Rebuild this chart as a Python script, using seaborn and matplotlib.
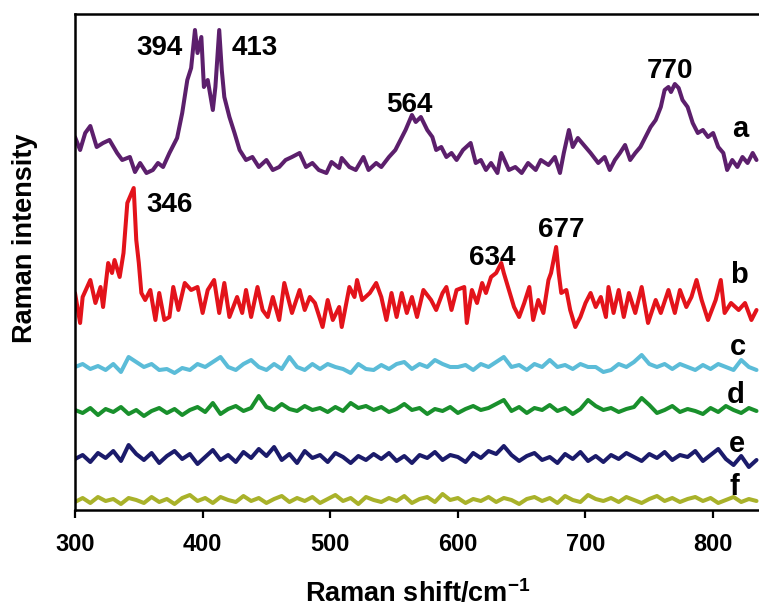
import matplotlib
matplotlib.use("Agg")
import matplotlib.pyplot as plt
import numpy as np
import pandas as pd
import seaborn as sns

# ---------------- spectra (Raman shift in cm^-1, intensity in a.u.) ----------------
shift_a = [300, 304, 308, 312, 317, 322, 327, 333, 337, 343, 347, 351, 356, 361, 365, 369, 374, 380,
           384, 388, 391, 394, 396, 399, 401, 404, 408, 410, 413, 415, 417, 421, 425, 429, 434, 439,
           444, 450, 455, 460, 465, 470, 476, 481, 486, 491, 497, 501, 507, 509, 515, 520, 526, 530,
           536, 540, 546, 551, 555, 559, 564, 567, 571, 576, 580, 583, 587, 591, 595, 599, 604, 610,
           614, 618, 622, 626, 631, 634, 640, 645, 650, 655, 661, 665, 671, 676, 680, 683, 687, 690,
           694, 700, 704, 710, 715, 719, 723, 727, 731, 735, 739, 743, 747, 751, 755, 759, 762, 765,
           767, 770, 773, 776, 780, 784, 788, 792, 796, 800, 804, 808, 811, 815, 819, 823, 827, 831, 834]
int_a = [43, 30, 47, 54, 33, 37, 40, 27, 20, 23, 8, 17, 7, 10, 17, 13, 27, 42,
         67, 100, 112, 150, 127, 143, 93, 100, 70, 93, 150, 110, 83, 63, 47, 30, 20, 23,
         13, 20, 10, 13, 20, 23, 27, 13, 17, 10, 7, 18, 12, 22, 13, 10, 23, 10,
         17, 13, 23, 30, 40, 50, 65, 58, 63, 50, 43, 30, 33, 23, 27, 20, 30, 37,
         17, 20, 10, 17, 7, 27, 10, 13, 7, 17, 10, 20, 15, 23, 7, 27, 50, 33,
         42, 33, 27, 17, 23, 10, 20, 27, 35, 20, 27, 33, 43, 53, 60, 73, 90, 93,
         88, 96, 92, 80, 73, 57, 47, 50, 43, 47, 33, 27, 10, 20, 13, 23, 17, 27, 20]

shift_b = [300, 304, 306, 312, 316, 320, 322, 326, 329, 331, 335, 338, 341, 343, 346, 348, 350, 352,
           355, 359, 363, 366, 370, 374, 377, 381, 386, 391, 396, 400, 404, 409, 413, 417, 421, 427,
           431, 434, 438, 443, 447, 451, 455, 460, 464, 470, 476, 480, 484, 488, 494, 498, 502, 507,
           509, 515, 519, 521, 525, 531, 536, 540, 544, 548, 552, 556, 560, 564, 568, 573, 579, 583,
           588, 591, 595, 599, 605, 607, 611, 615, 619, 622, 626, 630, 634, 636, 640, 644, 648, 652,
           656, 659, 663, 667, 671, 673, 677, 679, 681, 685, 688, 692, 696, 700, 704, 708, 712, 716,
           718, 722, 726, 730, 734, 739, 744, 749, 755, 759, 765, 770, 774, 779, 783, 787, 791, 796,
           802, 806, 809, 814, 820, 825, 830, 834]
int_b = [37, 7, 33, 50, 27, 43, 23, 67, 57, 70, 53, 77, 127, 133, 142, 90, 67, 37,
         30, 40, 10, 37, 10, 13, 43, 20, 47, 40, 43, 17, 40, 50, 17, 47, 13, 33,
         17, 40, 13, 43, 20, 13, 33, 10, 47, 17, 40, 20, 33, 27, 3, 30, 10, 23,
         3, 43, 33, 50, 30, 37, 47, 33, 10, 37, 13, 37, 17, 33, 13, 40, 30, 20,
         37, 43, 20, 40, 43, 7, 40, 27, 47, 37, 53, 57, 67, 57, 40, 23, 13, 27,
         43, 10, 30, 17, 50, 57, 83, 57, 37, 40, 20, 3, 13, 27, 37, 23, 33, 13,
         43, 17, 40, 13, 37, 17, 43, 7, 30, 17, 40, 17, 40, 23, 33, 50, 30, 10,
         30, 50, 17, 27, 20, 27, 10, 20]

# the four flat spectra are sampled every 6 cm^-1 from 300 to 834
shift_flat = list(range(300, 835, 6))
int_c = [8, 11, 6, 9, 5, 11, 3, 18, 13, 8,
         11, 5, 6, 2, 7, 5, 11, 8, 13, 18,
         8, 5, 11, 15, 8, 5, 11, 6, 18, 8,
         5, 11, 6, 11, 8, 6, 2, 11, 6, 5,
         10, 6, 11, 13, 6, 11, 8, 15, 11, 8,
         8, 10, 5, 11, 8, 13, 18, 8, 10, 5,
         11, 8, 15, 8, 10, 6, 11, 8, 8, 3,
         5, 11, 8, 13, 20, 11, 8, 11, 6, 11,
         8, 5, 10, 6, 11, 8, 5, 15, 8, 5]
int_d = [10, 7, 12, 5, 11, 8, 13, 6, 10, 4,
         9, 12, 7, 11, 5, 10, 13, 8, 17, 6,
         11, 14, 9, 12, 24, 13, 10, 16, 11, 9,
         14, 10, 12, 8, 13, 9, 17, 12, 14, 10,
         13, 8, 11, 16, 10, 12, 6, 11, 9, 13,
         7, 11, 14, 10, 12, 16, 20, 9, 13, 7,
         12, 10, 15, 9, 12, 6, 11, 20, 14, 10,
         12, 8, 11, 13, 22, 15, 7, 10, 14, 8,
         11, 9, 6, 12, 8, 14, 10, 7, 12, 9]
int_e = [16, 20, 13, 22, 17, 24, 14, 30, 21, 15,
         22, 12, 19, 24, 16, 21, 11, 18, 25, 15,
         20, 13, 23, 17, 26, 19, 28, 15, 21, 12,
         24, 17, 20, 13, 22, 18, 12, 19, 15, 21,
         16, 22, 14, 19, 12, 20, 17, 23, 15, 20,
         18, 13, 22, 17, 24, 21, 29, 20, 14, 19,
         22, 15, 18, 12, 21, 16, 23, 14, 19, 13,
         20, 16, 22, 18, 14, 21, 17, 23, 15, 20,
         18, 24, 14, 20, 26, 16, 10, 19, 8, 15]
int_f = [8, 12, 7, 13, 9, 11, 6, 12, 10, 7,
         13, 8, 11, 6, 12, 15, 9, 12, 7, 13,
         10, 8, 14, 9, 12, 7, 11, 14, 8, 12,
         9, 13, 7, 11, 15, 9, 12, 6, 13, 10,
         8, 12, 9, 14, 7, 11, 13, 8, 16, 10,
         12, 7, 11, 9, 13, 8, 12, 10, 6, 11,
         13, 9, 12, 7, 14, 10, 8, 15, 11, 9,
         12, 8, 13, 10, 7, 11, 14, 9, 12, 8,
         11, 13, 9, 12, 7, 10, 13, 8, 11, 9]

series_names = ["a", "b", "c", "d", "e", "f"]
peak_labels_a = [394, 413, 564, 770]
peak_labels_b = [346, 634, 677]
x_ticks = [300, 400, 500, 600, 700, 800]

# ---------------- styling ----------------
offsets = {"a": 330, "b": 180, "c": 135, "d": 90, "e": 35, "f": 0}
colors = {"a": "#5c1f6c", "b": "#e3131b", "c": "#5bbcd8", "d": "#19902c",
          "e": "#1b1b6b", "f": "#a9b22a"}

sns.set_style("white")
plt.rcParams["font.family"] = ["Liberation Sans", "DejaVu Sans"]
plt.rcParams["font.weight"] = "bold"
plt.rcParams["text.color"] = "black"
plt.rcParams["mathtext.fontset"] = "custom"
plt.rcParams["mathtext.rm"] = "Liberation Sans:bold"
plt.rcParams["mathtext.default"] = "rm"

spectra = {
    "a": (shift_a, int_a),
    "b": (shift_b, int_b),
    "c": (shift_flat, int_c),
    "d": (shift_flat, int_d),
    "e": (shift_flat, int_e),
    "f": (shift_flat, int_f),
}

fig = plt.figure(figsize=(7.59, 6.11), dpi=100)
ax = fig.add_axes([75 / 759, 101 / 611, 693 / 759, 496 / 611])

for name in series_names:
    sx, sy = spectra[name]
    df = pd.DataFrame({"shift": sx, "intensity": np.asarray(sy, dtype=float) + offsets[name]})
    sns.lineplot(data=df, x="shift", y="intensity", ax=ax, color=colors[name],
                 linewidth=2.9, legend=False)

ax.set_xlim(300, 843)
ax.set_ylim(0, 496)
ax.set_xticks(x_ticks)
ax.set_yticks([])
ax.set_xlabel("")
ax.set_ylabel("")
ax.tick_params(axis="x", direction="out", length=5.5, width=1.6, labelsize=17,
               pad=11, bottom=True, colors="black")
for lab in ax.get_xticklabels():
    lab.set_fontweight("bold")
for side in ["left", "top", "bottom"]:
    ax.spines[side].set_linewidth(1.8)
    ax.spines[side].set_color("black")
ax.spines["right"].set_visible(False)

# peak annotations
txt = dict(fontsize=20, fontweight="bold", color="black", ha="left", va="baseline")
ax.text(348, 455, str(peak_labels_a[0]), **txt)
ax.text(423, 455, str(peak_labels_a[1]), **txt)
ax.text(544, 398, str(peak_labels_a[2]), **txt)
ax.text(748, 432, str(peak_labels_a[3]), **txt)
ax.text(356, 298, str(peak_labels_b[0]), **txt)
ax.text(609, 245, str(peak_labels_b[1]), **txt)
ax.text(663, 273, str(peak_labels_b[2]), **txt)

# trace names at the right end
name_pos = {"a": (815, 373), "b": (813, 227), "c": (813, 155),
            "d": (811, 107), "e": (812, 58), "f": (813, 15)}
for name in series_names:
    x, y = name_pos[name]
    ax.text(x, y, name, fontsize=21, fontweight="bold", color="black",
            ha="left", va="baseline")

fig.text(25 / 759, (611 - 238) / 611, "Raman intensity", rotation=90, fontsize=19.5,
         fontweight="bold", color="black", ha="center", va="center")
fig.text(418 / 759, 9 / 611, r"Raman shift/cm$^{-1}$", fontsize=19.5,
         fontweight="bold", color="black", ha="center", va="baseline")

fig.savefig("out.png", dpi=100)
